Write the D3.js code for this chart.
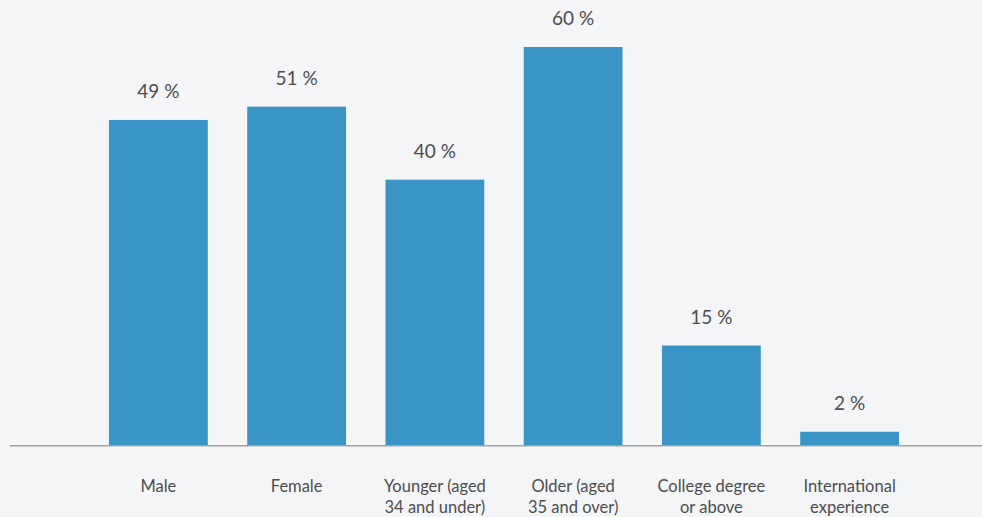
<!DOCTYPE html>
<html><head><meta charset="utf-8">
<script src="https://cdn.jsdelivr.net/npm/d3@7"></script>
<style>
html,body{margin:0;padding:0;background:#f4f5f7;}
svg{display:block;}
</style></head>
<body><svg id="chart" width="982" height="517"></svg>
<script>
const categories = [["Male"],["Female"],["Younger (aged","34 and under)"],["Older (aged","35 and over)"],["College degree","or above"],["International","experience"]];
const values = [49, 51, 40, 60, 15, 2];
const valueLabels = ["49 %","51 %","40 %","60 %","15 %","2 %"];

const W = 982, H = 517;
const baseline = 445;
const svg = d3.select("#chart");
svg.append("rect").attr("width",W).attr("height",H).attr("fill","#f4f5f7");

const idx = d3.range(values.length);
const x = d3.scaleBand().domain(idx).range([89.25, 918.75]).paddingInner(0.285).paddingOuter(0.1425);
const y = d3.scaleLinear().domain([0, 60]).range([baseline, 47]);

svg.selectAll("rect.bar").data(idx).enter().append("rect")
  .attr("class","bar")
  .attr("x", i => x(i))
  .attr("y", i => y(values[i]))
  .attr("width", x.bandwidth())
  .attr("height", i => baseline - y(values[i]))
  .attr("fill", "#3a94c6");

svg.append("line").attr("x1",10).attr("x2",982).attr("y1",baseline+0.75).attr("y2",baseline+0.75)
  .attr("stroke","#a3a3a3").attr("stroke-width",1.5);

svg.selectAll("text.val").data(idx).enter().append("text")
  .attr("class","val")
  .attr("x", i => x(i) + x.bandwidth()/2)
  .attr("y", i => y(values[i]) - 22)
  .attr("text-anchor","middle")
  .attr("font-family","Lato, 'Open Sans', sans-serif")
  .attr("font-size", 19)
  .attr("fill","#4d4d4d")
  .text(i => valueLabels[i]);

const cat = svg.selectAll("text.cat").data(idx).enter().append("text")
  .attr("class","cat")
  .attr("x", i => x(i) + x.bandwidth()/2)
  .attr("y", 492)
  .attr("text-anchor","middle")
  .attr("font-family","Lato, 'Open Sans', sans-serif")
  .attr("font-size", 16.5)
  .attr("fill","#4d4d4d");
cat.each(function(i){
  const t = d3.select(this);
  categories[i].forEach((line, j) => {
    t.append("tspan").attr("x", x(i) + x.bandwidth()/2).attr("dy", j === 0 ? 0 : 21).text(line);
  });
});
</script></body></html>
